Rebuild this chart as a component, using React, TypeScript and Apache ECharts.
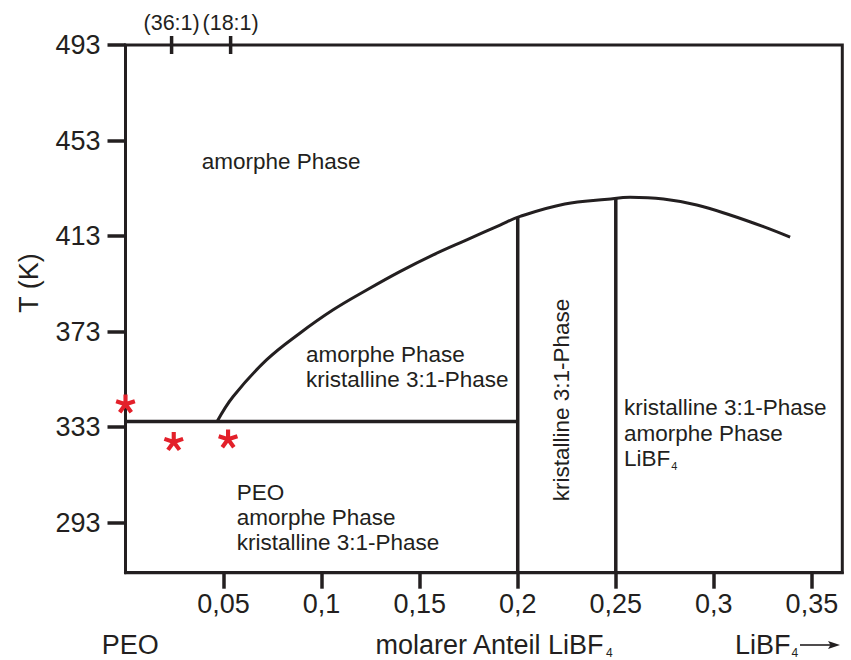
import React, { useEffect, useRef } from "react";
import * as echarts from "echarts";

// ---- data ----
const xTicks = [0.05, 0.1, 0.15, 0.2, 0.25, 0.3, 0.35];
const xTickLabels = ["0,05", "0,1", "0,15", "0,2", "0,25", "0,3", "0,35"];
const yTicks = [293, 333, 373, 413, 453, 493];

// liquidus-like curve (molar fraction LiBF4, T in K)
const curveX = [0.0467, 0.0549, 0.0719, 0.0889, 0.1059, 0.123, 0.1399, 0.1569, 0.174, 0.191, 0.2012, 0.224, 0.2459, 0.2573, 0.2743, 0.2913, 0.3083, 0.3253, 0.3389];
const curveT = [335.3, 345.8, 361.1, 372.3, 382.1, 390.4, 398.1, 405.1, 411.4, 417.6, 421.2, 426.4, 428.4, 429.2, 428.5, 426.0, 421.8, 416.9, 412.5];

// phase boundaries
const eutecticT = 335.3;
const eutecticX = [0, 0.2];
const boundaryX = [0.2, 0.25];
const boundaryTopT = [421.0, 428.7];

// measured points (red asterisks)
const starX = [0, 0.0246, 0.0523];
const starT = [342.7, 326.9, 328.0];

// top composition marks
const topTickX = [0.0235, 0.0536];
const topTickLabels = ["(36:1)", "(18:1)"];

const X_MIN = 0;
const X_MAX = 0.3655;
const Y_MIN = 272;
const Y_MAX = 493;

const INK = "#231f20";
const RED = "#e3202a";
const FONT = "'Liberation Sans', Arial, Helvetica, sans-serif";

function asteriskPath(): string {
  const c = 10;
  const L = 10;
  const w = 2.1;
  const angles = [-90, -18, 54, 126, 198];
  let d = "";
  for (const a of angles) {
    const r = (a * Math.PI) / 180;
    const dx = Math.cos(r);
    const dy = Math.sin(r);
    const px = -dy;
    const py = dx;
    const p = [
      [c + px * w, c + py * w],
      [c + px * w + dx * L, c + py * w + dy * L],
      [c - px * w + dx * L, c - py * w + dy * L],
      [c - px * w, c - py * w],
    ];
    d += `M${p[0][0].toFixed(2)} ${p[0][1].toFixed(2)}L${p[1][0].toFixed(2)} ${p[1][1].toFixed(2)}L${p[2][0].toFixed(2)} ${p[2][1].toFixed(2)}L${p[3][0].toFixed(2)} ${p[3][1].toFixed(2)}Z`;
  }
  return "path://" + d;
}

export default function App() {
  const ref = useRef<HTMLDivElement>(null);

  useEffect(() => {
    if (!ref.current) return;
    const chart = echarts.init(ref.current, null, { renderer: "svg" });

    const lineStyle = { color: INK, width: 3.5 };
    const subStyle = { fontSize: 12, fontFamily: FONT, fill: INK, color: INK, verticalAlign: "bottom", padding: [12, 0, 0, 1] };

    const bottomText = (text: string, x: number) => ({
      type: "text",
      x,
      y: 645,
      style: {
        text,
        font: `27px ${FONT}`,
        fontSize: 27,
        fontFamily: FONT,
        fill: INK,
        lineHeight: 27,
        verticalAlign: "middle",
        rich: { sub: subStyle },
      },
    });

    const option: any = {
      animation: false,
      backgroundColor: "#ffffff",
      grid: {
        left: 125.5,
        right: 8.7,
        top: 45,
        bottom: 87.3,
        show: true,
        borderColor: INK,
        borderWidth: 3,
      },
      xAxis: {
        type: "value",
        min: X_MIN,
        max: X_MAX,
        axisLine: { show: true, lineStyle: { color: INK, width: 3 } },
        axisTick: { show: true, customValues: xTicks, length: 16, inside: false, lineStyle: { color: INK, width: 3.5 } },
        axisLabel: {
          customValues: xTicks,
          margin: 18,
          fontSize: 27,
          fontFamily: FONT,
          color: INK,
          formatter: (v: number) => {
            const i = xTicks.findIndex((t) => Math.abs(t - v) < 1e-6);
            return i >= 0 ? xTickLabels[i] : "";
          },
        },
        splitLine: { show: false },
      },
      yAxis: {
        type: "value",
        min: Y_MIN,
        max: Y_MAX,
        axisLine: { show: true, lineStyle: { color: INK, width: 3 } },
        axisTick: { show: true, customValues: yTicks, length: 18, lineStyle: { color: INK, width: 3.5 } },
        axisLabel: {
          customValues: yTicks,
          margin: 25,
          fontSize: 27,
          fontFamily: FONT,
          color: INK,
        },
        splitLine: { show: false },
      },
      series: [
        {
          type: "line",
          data: curveX.map((x, i) => [x, curveT[i]]),
          smooth: 0.4,
          symbol: "none",
          lineStyle: { color: INK, width: 3 },
          silent: true,
        },
        {
          type: "line",
          data: eutecticX.map((x) => [x, eutecticT]),
          symbol: "none",
          lineStyle,
          silent: true,
        },
        ...boundaryX.map((x, i) => ({
          type: "line",
          data: [
            [x, Y_MIN],
            [x, boundaryTopT[i]],
          ],
          symbol: "none",
          lineStyle,
          silent: true,
        })),
        {
          type: "scatter",
          data: starX.map((x, i) => [x, starT[i]]),
          symbol: asteriskPath(),
          symbolSize: 20,
          symbolKeepAspect: true,
          itemStyle: { color: RED, opacity: 1 },
          clip: false,
          silent: true,
          z: 5,
        },
        {
          type: "scatter",
          data: topTickX.map((x, i) => ({ value: [x, Y_MAX], name: topTickLabels[i] })),
          symbol: "rect",
          symbolSize: [3.5, 18],
          itemStyle: { color: INK, opacity: 1 },
          clip: false,
          silent: true,
          label: {
            show: true,
            position: "top",
            distance: 2,
            formatter: (p: any) => p.name,
            fontSize: 21.5,
            fontFamily: FONT,
            color: INK,
          },
        },
      ],
      graphic: [
        {
          type: "text",
          x: 201.7,
          y: 161.7,
          style: { text: "amorphe Phase", font: `22.5px ${FONT}`, fill: INK, verticalAlign: "middle" },
        },
        {
          type: "text",
          x: 306,
          y: 367,
          style: {
            text: "amorphe Phase\nkristalline 3:1-Phase",
            font: `22.5px ${FONT}`,
            fill: INK,
            lineHeight: 24.5,
            verticalAlign: "middle",
          },
        },
        {
          type: "text",
          x: 236.7,
          y: 517,
          style: {
            text: "PEO\namorphe Phase\nkristalline 3:1-Phase",
            font: `22.5px ${FONT}`,
            fill: INK,
            lineHeight: 25,
            verticalAlign: "middle",
          },
        },
        {
          type: "text",
          x: 561.7,
          y: 400,
          rotation: Math.PI / 2,
          style: {
            text: "kristalline 3:1-Phase",
            font: `22.5px ${FONT}`,
            fill: INK,
            align: "center",
            verticalAlign: "middle",
          },
        },
        {
          type: "text",
          x: 624,
          y: 433,
          style: {
            text: "kristalline 3:1-Phase\namorphe Phase\nLiBF{sub|4}",
            font: `22.5px ${FONT}`,
            fontSize: 22.5,
            fontFamily: FONT,
            fill: INK,
            lineHeight: 25.5,
            verticalAlign: "middle",
            rich: { sub: { ...subStyle, fontSize: 11, padding: [10, 0, 0, 1] } },
          },
        },
        {
          type: "text",
          x: 28.5,
          y: 283,
          rotation: Math.PI / 2,
          style: { text: "T (K)", font: `27px ${FONT}`, fill: INK, align: "center", verticalAlign: "middle" },
        },
        bottomText("PEO", 101.7),
        bottomText("molarer Anteil LiBF{sub|4}", 375.4),
        bottomText("LiBF{sub|4}", 735),
        {
          type: "line",
          shape: { x1: 800, y1: 645, x2: 832, y2: 645 },
          style: { stroke: INK, lineWidth: 1.6 },
        },
        {
          type: "polygon",
          shape: { points: [[828, 641], [840, 645], [828, 649], [830.5, 645]] },
          style: { fill: INK },
        },
      ],
    };

    chart.setOption(option);
    return () => chart.dispose();
  }, []);

  return (
    <div
      ref={ref}
      style={{ position: "absolute", left: 0, top: 0, width: 851, height: 660 }}
    />
  );
}
